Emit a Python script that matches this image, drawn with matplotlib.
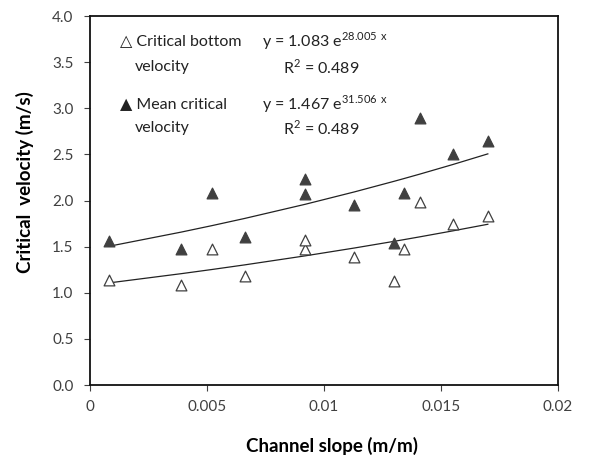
import numpy as np
import matplotlib
matplotlib.use("Agg")
import matplotlib.pyplot as plt

plt.rcParams['font.family'] = ['Lato', 'DejaVu Sans']

# channel slope (m/m)
slope = [0.0008, 0.0039, 0.0052, 0.0066, 0.0092, 0.0092, 0.0113, 0.0130, 0.0134, 0.0141, 0.0155, 0.0170]
# critical bottom velocity (m/s)
v_bottom = [1.14, 1.08, 1.47, 1.18, 1.47, 1.57, 1.39, 1.13, 1.47, 1.98, 1.75, 1.83]
# slope values for mean velocity
slope_mean = [0.0008, 0.0039, 0.0052, 0.0066, 0.0092, 0.0092, 0.0113, 0.0130, 0.0134, 0.0141, 0.0155, 0.0170]
# mean critical velocity (m/s)
v_mean = [1.56, 1.47, 2.08, 1.61, 2.07, 2.23, 1.95, 1.54, 2.08, 2.90, 2.51, 2.65]

# exponential trend coefficients
a_bot, b_bot = 1.083, 28.005
a_mean, b_mean = 1.467, 31.506

fig = plt.figure(figsize=(5.93, 4.59), dpi=100)
ax = fig.add_axes([0.152, 0.161, 0.789, 0.804])

xs = np.array(sorted(set(slope)))
ax.plot(xs, a_bot * np.exp(b_bot * xs), color="#222222", lw=0.9)
xm = np.array(sorted(set(slope_mean)))
ax.plot(xm, a_mean * np.exp(b_mean * xm), color="#222222", lw=0.9)

ax.scatter(slope, v_bottom, marker="^", s=60, facecolor="white",
           edgecolor="#404040", linewidth=0.9, zorder=3)
ax.scatter(slope_mean, v_mean, marker="^", s=60, facecolor="#404040",
           edgecolor="#404040", linewidth=0.9, zorder=3)

ax.set_xlim(0, 0.02)
ax.set_ylim(0, 4.0)
ax.set_xticks([0, 0.005, 0.01, 0.015, 0.02])
ax.set_xticklabels(["0", "0.005", "0.01", "0.015", "0.02"])
ax.set_yticks(np.arange(0, 4.01, 0.5))
ax.set_yticklabels([f"{v:.1f}" for v in np.arange(0, 4.01, 0.5)])
ax.tick_params(labelsize=11, colors="#404040", length=4, width=0.8)
ax.tick_params(axis="x", pad=7)
ax.tick_params(axis="y", pad=8)
for sp in ax.spines.values():
    sp.set_linewidth(1.3)
    sp.set_color("#111111")

ax.set_xlabel("Channel slope (m/m)", fontsize=13.5, fontweight="bold", va="center")
ax.xaxis.set_label_coords(0.516, -0.165)
ax.set_ylabel("Critical  velocity (m/s)", fontsize=13.5, fontweight="bold", va="center")
ax.yaxis.set_label_coords(-0.139, 0.55)

tk = dict(transform=ax.transAxes, fontsize=11.5, color="#222222", va="center")
ax.text(0.064, 0.932, "\u25b3 Critical bottom", **tk)
ax.text(0.096, 0.862, "velocity", **tk)
ax.text(0.064, 0.762, "\u25b2 Mean critical", **tk)
ax.text(0.096, 0.696, "velocity", **tk)
ax.text(0.368, 0.932, r"y = 1.083 e$^{\mathregular{28.005\ x}}$", **tk)
ax.text(0.412, 0.862, r"R$^{\mathregular{2}}$ = 0.489", **tk)
ax.text(0.368, 0.762, r"y = 1.467 e$^{\mathregular{31.506\ x}}$", **tk)
ax.text(0.412, 0.696, r"R$^{\mathregular{2}}$ = 0.489", **tk)

fig.savefig("out.png", dpi=100)
